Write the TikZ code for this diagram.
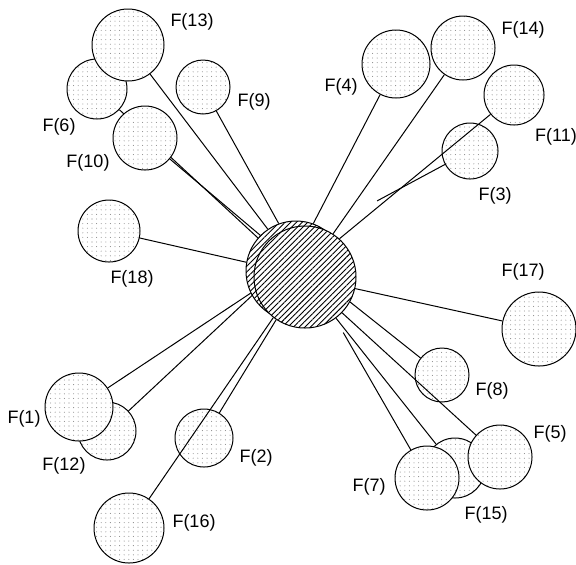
\documentclass[tikz,border=0pt]{standalone}
\usepackage{fontspec}
\setmainfont{Liberation Sans}
\usetikzlibrary{patterns.meta,backgrounds}
\tikzset{
  ball/.style={circle,draw,line width=0.5pt,inner sep=0pt,preaction={fill=white},
    pattern={Dots[distance=2.3pt,radius=0.27pt]},pattern color=black!45},
  hub/.style={circle,draw,line width=0.5pt,inner sep=0pt,preaction={fill=white},
    pattern={Lines[angle=45,distance=2pt,line width=0.45pt]}},
  flabel/.style={font=\fontsize{9}{10}\selectfont,inner sep=0pt},
  spoke/.style={line width=0.5pt}
}
\begin{document}
\begin{tikzpicture}[x=0.5pt,y=-0.5pt]
  \useasboundingbox (0,0) rectangle (576,564);
  % Outer circles
  \node[ball,minimum size=30pt] (f6) at (97,89) {};
  \node[ball,minimum size=36pt] (f13) at (128,45) {};
  \node[ball,minimum size=27pt] (f9) at (203,87) {};
  \node[ball,minimum size=32pt] (f10) at (145,138) {};
  \node[ball,minimum size=31pt] (f18) at (109,231) {};
  \node[ball,minimum size=29pt] (f12) at (107,431) {};
  \node[ball,minimum size=34pt] (f1) at (79,407) {};
  \node[ball,minimum size=29pt] (f2) at (204,438) {};
  \node[ball,minimum size=35pt] (f16) at (129,528) {};
  \node[ball,minimum size=34pt] (f4) at (396,64) {};
  \node[ball,minimum size=32pt] (f14) at (463,48) {};
  \node[ball,minimum size=30pt] (f11) at (514,95) {};
  \node[ball,minimum size=28pt] (f3) at (470,151) {};
  \node[ball,minimum size=37pt] (f17) at (539,329) {};
  \node[ball,minimum size=27pt] (f8) at (442,375) {};
  \node[ball,minimum size=30pt] (f15) at (455,468) {};
  \node[ball,minimum size=32pt] (f7) at (427,478) {};
  \node[ball,minimum size=32pt] (f5) at (500,457) {};

  % Hub
  \node[hub,minimum size=50pt] (hubback) at (296,271) {};
  \node[hub,minimum size=51pt] (hubfront) at (305,277) {};

  % Spokes behind the circles
  \begin{scope}[on background layer]
    \draw[spoke] (f1) -- (hubback.206);
    \draw[spoke] (f2) -- (hubfront.236);
    \draw[spoke,shorten >=30pt] (f3) -- (hubfront.68);
    \draw[spoke] (f4) -- (hubback.70);
    \draw[spoke] (f6) -- (hubback.139);
    \draw[spoke,shorten >=8pt] (f7) -- (hubfront.306);
    \draw[spoke] (f8) -- (hubfront.331);
    \draw[spoke] (f9) -- (hubback.110);
    \draw[spoke] (f10) -- (hubback.135);
    \draw[spoke] (f12) -- (hubfront.197);
    \draw[spoke] (f13) -- (hubback.124);
    \draw[spoke] (f14) -- (hubfront.57);
    \draw[spoke] (f15) -- (hubfront.307);
    \draw[spoke] (f17) -- (hubfront.347);
    \draw[spoke] (f18) -- (hubback.170);
  \end{scope}
  % Spokes over the circles
  \draw[spoke] (f5) -- (hubfront.316);
  \draw[spoke] (f11) -- (hubfront.48);
  \draw[spoke] (f16) -- (hubfront.232);

  % Labels
  \node[flabel] (t1) at (24,419) {F(1)};
  \node[flabel] (t2) at (256,458) {F(2)};
  \node[flabel] (t3) at (495,196) {F(3)};
  \node[flabel] (t4) at (341,87) {F(4)};
  \node[flabel] (t5) at (550,434) {F(5)};
  \node[flabel] (t6) at (59,127) {F(6)};
  \node[flabel] (t7) at (369,487) {F(7)};
  \node[flabel] (t8) at (492,391) {F(8)};
  \node[flabel] (t9) at (254,102) {F(9)};
  \node[flabel] (t10) at (88,163) {F(10)};
  \node[flabel] (t11) at (556,137) {F(11)};
  \node[flabel] (t12) at (64,466) {F(12)};
  \node[flabel] (t13) at (192,22) {F(13)};
  \node[flabel] (t14) at (523,30) {F(14)};
  \node[flabel] (t15) at (486,515) {F(15)};
  \node[flabel] (t16) at (194,523) {F(16)};
  \node[flabel] (t17) at (523,272) {F(17)};
  \node[flabel] (t18) at (132,279) {F(18)};
\end{tikzpicture}
\end{document}
